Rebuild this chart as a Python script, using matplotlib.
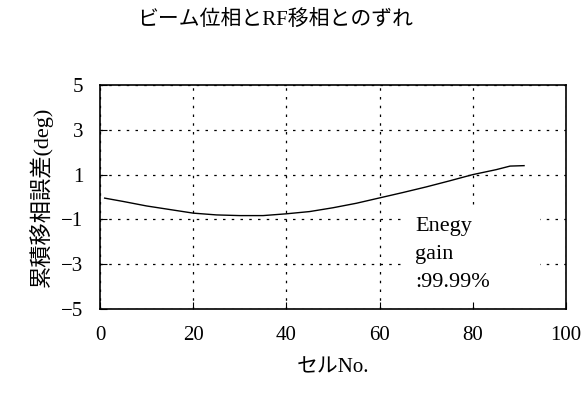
import numpy as np
import matplotlib
matplotlib.use('Agg')
import matplotlib.pyplot as plt
from matplotlib.patches import Rectangle

plt.rcParams['font.family'] = ['Liberation Serif', 'Noto Sans CJK JP']

# データ
cell = [1, 5, 10, 15, 20, 25, 30, 35, 40, 45, 50, 55, 60, 65, 70, 75, 80, 85, 88, 91]
phase_err = [-0.05, -0.2, -0.4, -0.56, -0.72, -0.8, -0.83, -0.83, -0.75, -0.65,
             -0.48, -0.28, -0.04, 0.2, 0.45, 0.72, 1.0, 1.22, 1.38, 1.40]
xticks = [0, 20, 40, 60, 80, 100]
yticks = [-5, -3, -1, 1, 3, 5]

fig = plt.figure(figsize=(5.85, 3.94), dpi=100)
ax = fig.add_axes([100/585, 1 - 309/394, 466/585, 224/394])

ax.plot(cell, phase_err, color='black', linewidth=1.0, zorder=3)

ax.set_xlim(0, 100)
ax.set_ylim(-5, 5)
ax.set_xticks(xticks)
ax.set_yticks(yticks)
ax.tick_params(direction='in', labelsize=15, length=5, pad=12)

# 点線グリッド
ax.grid(True, color='black', linestyle=(0, (2, 5)), linewidth=0.9)

for s in ax.spines.values():
    s.set_linewidth(1.2)

ax.set_xlabel('セルNo.', fontsize=15, labelpad=10)
ax.set_ylabel('累積移相誤差(deg)', fontsize=16, labelpad=6)

# テキストの白背景
ax.add_patch(Rectangle((0.65, 0.031), 0.294, 0.424, transform=ax.transAxes,
                       facecolor='white', edgecolor='none', zorder=2))
ax.text(67.6, -0.9, 'Enegy\ngain\n:99.99%', fontsize=16, va='top', ha='left',
        linespacing=1.65, zorder=4)

fig.text(275/585, 1 - 20/394, 'ビーム位相とRF移相とのずれ', fontsize=15,
         ha='center', va='center')

fig.savefig('out.png', dpi=100)
